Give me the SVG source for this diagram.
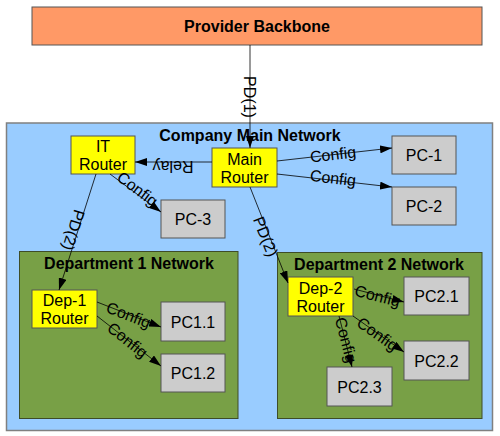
<svg xmlns="http://www.w3.org/2000/svg" width="500" height="436" viewBox="0 0 500 436">
<style>
text{font-family:"Liberation Sans",Arial,sans-serif;font-size:16px;fill:#000}
.b{font-weight:bold}
.m{text-anchor:middle}
.router{fill:#ffff00;stroke:#555;stroke-width:1}
.pc{fill:#cccccc;stroke:#555;stroke-width:1}
.net{fill:#99ccff;stroke:#808080;stroke-width:1.5}
.dep{fill:#78a046;stroke:#3e4d28;stroke-width:1}
.prov{fill:#ff9966;stroke:#555;stroke-width:1}
.c line{stroke:#000;stroke-width:0.8;marker-end:url(#arr)}
</style>
<defs>
<marker id="arr" markerWidth="12" markerHeight="8" refX="12" refY="4" orient="auto" markerUnits="userSpaceOnUse">
<path d="M0,0 L12,4 L0,8 z" fill="#000"/>
</marker>
</defs>
<g id="provider">
<rect class="prov" x="32" y="7" width="450" height="38"/>
<text class="b m" x="257" y="32">Provider Backbone</text>
</g>
<g id="company">
<rect class="net" x="6.5" y="123" width="486" height="307.5"/>
<text class="b m" x="250" y="141">Company Main Network</text>
</g>
<g id="dep1net">
<rect class="dep" x="19.5" y="251.5" width="218.5" height="167"/>
<text class="b m" x="129" y="269">Department 1 Network</text>
</g>
<g id="dep2net">
<rect class="dep" x="277.5" y="252.5" width="204.5" height="166"/>
<text class="b m" x="379" y="270">Department 2 Network</text>
</g>
<g id="itrouter">
<rect class="router" x="71" y="136" width="64" height="38"/>
<text class="m" x="103" y="152">IT</text>
<text class="m" x="103" y="170">Router</text>
</g>
<g id="mainrouter">
<rect class="router" x="212" y="148" width="65" height="39"/>
<text class="m" x="244.5" y="164.5">Main</text>
<text class="m" x="244.5" y="182.5">Router</text>
</g>
<g id="pc1">
<rect class="pc" x="392" y="136" width="64" height="38"/>
<text class="m" x="424" y="161">PC-1</text>
</g>
<g id="pc2">
<rect class="pc" x="392" y="187" width="64" height="38"/>
<text class="m" x="424" y="212">PC-2</text>
</g>
<g id="pc3">
<rect class="pc" x="161" y="200" width="64" height="38"/>
<text class="m" x="193" y="225">PC-3</text>
</g>
<g id="dep1router">
<rect class="router" x="32" y="290" width="65" height="38"/>
<text class="m" x="64.5" y="306">Dep-1</text>
<text class="m" x="64.5" y="324">Router</text>
</g>
<g id="pc11">
<rect class="pc" x="161" y="302" width="64" height="39"/>
<text class="m" x="193" y="327.5">PC1.1</text>
</g>
<g id="pc12">
<rect class="pc" x="161" y="354" width="64" height="38"/>
<text class="m" x="193" y="379">PC1.2</text>
</g>
<g id="dep2router">
<rect class="router" x="288" y="277" width="65" height="39"/>
<text class="m" x="320.5" y="293.5">Dep-2</text>
<text class="m" x="320.5" y="311.5">Router</text>
</g>
<g id="pc21">
<rect class="pc" x="404" y="277" width="65" height="38"/>
<text class="m" x="436.5" y="302">PC2.1</text>
</g>
<g id="pc22">
<rect class="pc" x="404" y="341" width="65" height="39"/>
<text class="m" x="436.5" y="366.5">PC2.2</text>
</g>
<g id="pc23">
<rect class="pc" x="327" y="367" width="65" height="39"/>
<text class="m" x="359.5" y="392.5">PC2.3</text>
</g>
<g id="connectors" class="c">
<line x1="250" y1="45" x2="250" y2="148"/>
<text class="m" transform="translate(249,97) rotate(90)" y="5.5">PD(1)</text>
<line x1="212" y1="162" x2="135" y2="162"/>
<text class="m" transform="translate(173,166) rotate(180)" y="5.5">Relay</text>
<line x1="110" y1="174" x2="161" y2="212"/>
<text class="m" transform="translate(137.5,189) rotate(36.7)" y="5.5">Config</text>
<line x1="96" y1="174" x2="59" y2="290"/>
<text class="m" transform="translate(73.5,230) rotate(107.2)" y="5.5">PD(2)</text>
<line x1="250" y1="187" x2="288" y2="283"/>
<text class="m" transform="translate(265.5,236.5) rotate(68.2)" y="5.5">PD(2)</text>
<line x1="277" y1="161" x2="392" y2="148"/>
<text class="m" transform="translate(333,154.5) rotate(-6.45)" y="5.5">Config</text>
<line x1="277" y1="174" x2="392" y2="187"/>
<text class="m" transform="translate(333,178) rotate(6.45)" y="5.5">Config</text>
<line x1="97" y1="302" x2="161" y2="327"/>
<text class="m" transform="translate(128.5,315) rotate(21.3)" y="5.5">Config</text>
<line x1="97" y1="316" x2="161" y2="366"/>
<text class="m" transform="translate(127.5,340) rotate(38.4)" y="5.5">Config</text>
<line x1="354" y1="289" x2="404" y2="302"/>
<text class="m" transform="translate(377.5,296) rotate(14.3)" y="5.5">Config</text>
<line x1="353" y1="316" x2="404" y2="352"/>
<text class="m" transform="translate(377.5,334) rotate(35.2)" y="5.5">Config</text>
<line x1="339" y1="316" x2="352" y2="367"/>
<text class="m" transform="translate(346,340) rotate(75.4)" y="5.5">Config</text>
</g>
</svg>
